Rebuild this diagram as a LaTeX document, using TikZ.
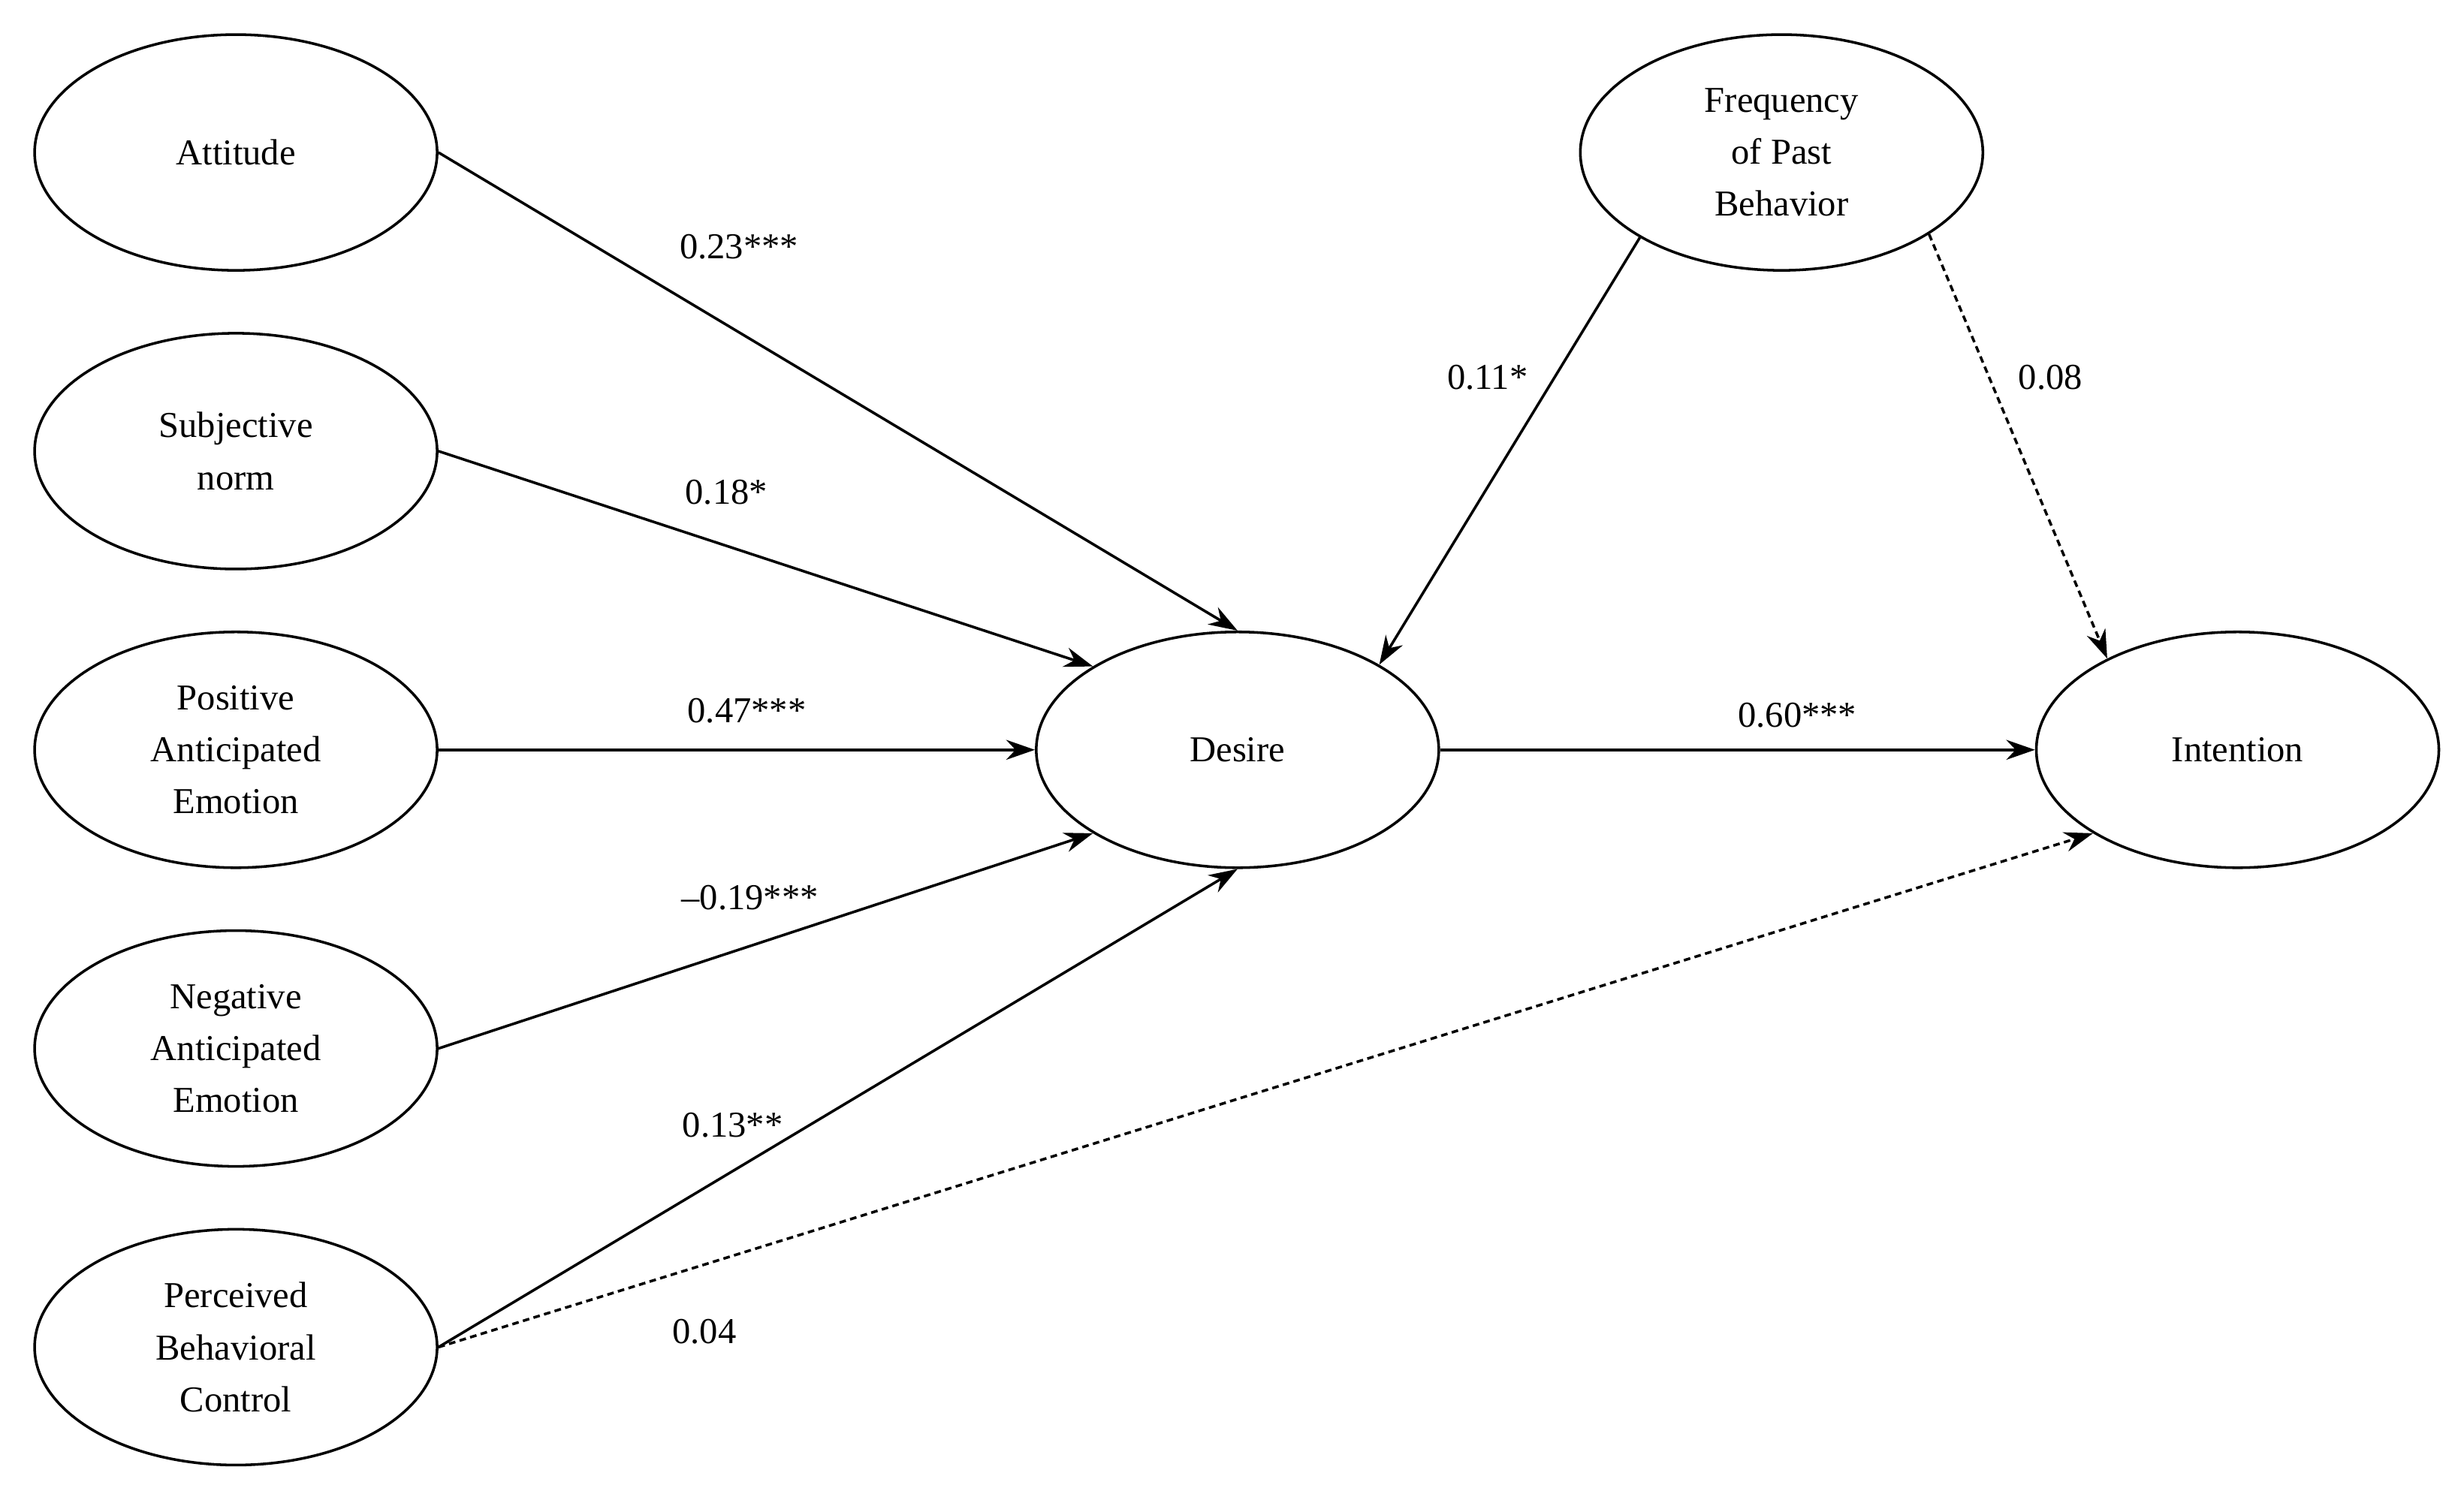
\documentclass[tikz,border=0pt]{standalone}
\usepackage{fontspec}
\setmainfont{Liberation Serif}
\usetikzlibrary{shapes.geometric,arrows.meta}
\begin{document}
\begin{tikzpicture}[x=0.05cm,y=-0.05cm,
  el/.style={ellipse,draw,line width=2.4pt,minimum width=256\pgflinewidth/2.4*0.05cm/1pt,inner sep=0pt,align=center,font=\fontsize{33}{47}\selectfont},
  ar/.style={line width=2.4pt,-{Stealth[length=26pt,width=18pt]}},
  da/.style={ar,dash pattern=on 6pt off 4pt},
  lb/.style={font=\fontsize{33}{40}\selectfont}]
\tikzset{el/.style={ellipse,draw,line width=2.4pt,minimum width=12.8cm,minimum height=7.5cm,inner sep=0pt,align=center,font=\fontsize{33}{47}\selectfont}}
\useasboundingbox (0,0) rectangle (1567,952);
\node[el] (att) at (150,97) {Attitude};
\node[el] (sn) at (150,287) {Subjective\\norm};
\node[el] (pae) at (150,477) {Positive\\Anticipated\\Emotion};
\node[el] (nae) at (150,667) {Negative\\Anticipated\\Emotion};
\node[el] (pbc) at (150,857) {Perceived\\Behavioral\\Control};
\node[el] (des) at (787,477) {Desire};
\node[el] (fpb) at (1133,97) {Frequency\\of Past\\Behavior};
\node[el] (int) at (1423,477) {Intention};
\draw[ar] (att.east) -- (des.90);
\draw[ar] (sn.east) -- (des.150);
\draw[ar] (pae.east) -- (des.west);
\draw[ar] (nae.east) -- (des.210);
\draw[ar] (pbc.east) -- (des.270);
\draw[ar] (fpb.211) -- (des.31);
\draw[da] (fpb.331) -- (int.145);
\draw[ar] (des.east) -- (int.west);
\draw[da] (pbc.east) -- (int.210);
\node[lb] at (470,157) {0.23***};
\node[lb] at (462,313) {0.18*};
\node[lb] at (475,452) {0.47***};
\node[lb] at (477,571) {–0.19***};
\node[lb] at (466,716) {0.13**};
\node[lb] at (448,847) {0.04};
\node[lb] at (946,240) {0.11*};
\node[lb] at (1304,240) {0.08};
\node[lb] at (1143,455) {0.60***};
\end{tikzpicture}
\end{document}
